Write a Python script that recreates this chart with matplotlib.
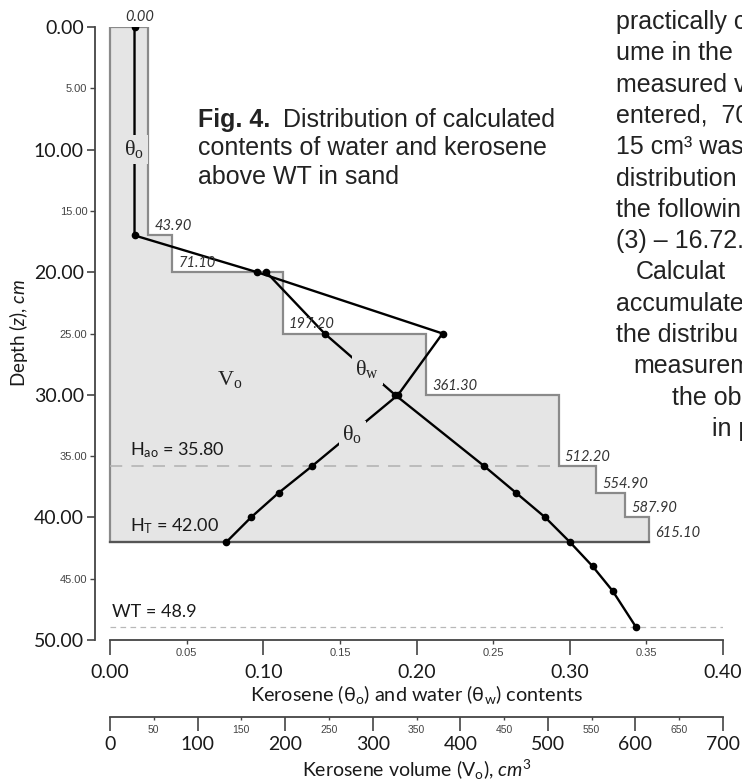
import matplotlib
matplotlib.use('Agg')
import matplotlib.pyplot as plt
import numpy as np

# ── fonts ─────────────────────────────────────────────────────────────
plt.rcParams['font.family'] = ['Lato', 'Liberation Serif', 'DejaVu Sans']
plt.rcParams['mathtext.fontset'] = 'custom'
plt.rcParams['mathtext.rm'] = 'Lato'
plt.rcParams['mathtext.it'] = 'Lato:italic'
plt.rcParams['mathtext.bf'] = 'Lato:bold'

# ── data ──────────────────────────────────────────────────────────────
# cumulative kerosene volume V_o (cm3) reached at each depth (cm)
step_depth = [0, 17, 20, 25, 30, 35.8, 38, 40, 42]
step_volume = [0.0, 43.9, 71.1, 197.2, 361.3, 512.2, 554.9, 587.9, 615.1]
step_labels = ['0.00', '43.90', '71.10', '197.20', '361.30',
               '512.20', '554.90', '587.90', '615.10']

# kerosene content theta_o
oil_depth = [0, 17, 20, 25, 30, 35.8, 38, 40, 42]
oil_theta = [0.016, 0.016, 0.096, 0.217, 0.188, 0.132, 0.110, 0.092, 0.076]

# water content theta_w
water_depth = [20, 25, 30, 35.8, 38, 40, 42, 44, 46, 48.9]
water_theta = [0.102, 0.140, 0.186, 0.244, 0.265, 0.284, 0.300, 0.315,
               0.328, 0.343]

H_AO = 35.8
H_T = 42.0
WT = 48.9
VOL_PER_THETA = 1750.0      # 700 cm3 on the volume scale <-> 0.40

depth_major = [0, 10, 20, 30, 40, 50]
depth_minor = [5, 15, 25, 35, 45]
theta_major = [0.0, 0.1, 0.2, 0.3, 0.4]
theta_minor = [0.05, 0.15, 0.25, 0.35]
vol_major = [0, 100, 200, 300, 400, 500, 600, 700]
vol_minor = [50, 150, 250, 350, 450, 550, 650]

# ── colours ───────────────────────────────────────────────────────────
FILL = '#e5e5e5'
STEP_EDGE = '#8a8a8a'
AXIS = '#444444'
DASH = '#b0b0b0'
TEXT = '#1a1a1a'

W, H = 742, 781
fig = plt.figure(figsize=(W / 100, H / 100), dpi=100)
fig.patch.set_facecolor('white')


def fx(px):
    return px / W


def fy(py):
    return 1 - py / H


ax = fig.add_axes([fx(95), fy(640), (723 - 95) / W, (640 - 27) / H])
ax.set_xlim(-15 / 1532.5, 0.40)
ax.set_ylim(50, 0)
ax.patch.set_visible(False)
for s in ['top', 'right']:
    ax.spines[s].set_visible(False)
ax.spines['left'].set_bounds(0, 50)
ax.spines['bottom'].set_bounds(0, 0.4)
for s in ['left', 'bottom']:
    ax.spines[s].set_color(AXIS)
    ax.spines[s].set_linewidth(1.3)

# ── stepped V_o profile ───────────────────────────────────────────────
vt = np.array(step_volume) / VOL_PER_THETA
z = np.array(step_depth)
xs = np.concatenate([[0], np.repeat(vt[1:], 2), [0]])
ys = np.concatenate([[z[0]], np.repeat(z, 2)[1:-1], [z[-1]]])
ax.fill(xs, ys, facecolor=FILL, edgecolor=STEP_EDGE, lw=1.6, zorder=1)
ax.plot([0, vt[-1]], [z[-1], z[-1]], color='#555555', lw=1.6, zorder=2)

for i in range(1, len(step_depth)):
    ax.annotate(step_labels[i], xy=(vt[i], z[i]), xytext=(4.5, 1.5),
                textcoords='offset points', ha='left', va='bottom',
                fontsize=10.5, style='italic', color='#333333', zorder=5)
ax.annotate(step_labels[0], xy=(oil_theta[0], z[0]), xytext=(3.5, 2),
            textcoords='offset points', ha='center', va='bottom',
            fontsize=10.5, style='italic', color='#333333', zorder=5)

# ── reference levels ─────────────────────────────────────────────────
ax.plot([0, 512.2 / VOL_PER_THETA], [H_AO, H_AO], color=DASH, lw=1.1,
        ls=(0, (8, 6)), zorder=2)
ax.plot([0, 0.40], [WT, WT], color='#b8b8b8', lw=0.9, ls=(0, (4.5, 3.5)),
        zorder=2)

ax.text(0.013, H_AO - 0.45, r'H$_\mathregular{ao}$ = 35.80', fontsize=13,
        color=TEXT, va='bottom', ha='left')
ax.text(0.013, H_T - 0.45, r'H$_\mathregular{T}$ = 42.00', fontsize=13,
        color=TEXT, va='bottom', ha='left')
ax.text(0.001, WT - 0.55, 'WT = 48.9', fontsize=13, color=TEXT,
        va='bottom', ha='left')

# ── content profiles ─────────────────────────────────────────────────
ax.plot(oil_theta, oil_depth, color='black', lw=1.7, marker='o', ms=4.5,
        zorder=3)
ax.plot(water_theta, water_depth, color='black', lw=1.7, marker='o', ms=4.5,
        zorder=3)

lab = dict(fontsize=16, family='Liberation Serif', color='#222222',
           ha='center', va='center', zorder=6,
           bbox=dict(boxstyle='square,pad=0.15', fc=FILL, ec='none'))
ax.text(0.016, 10.0, r'θ$_\mathregular{o}$', **lab)
ax.text(0.168, 28.0, r'θ$_\mathregular{w}$', **lab)
ax.text(0.158, 33.3, r'θ$_\mathregular{o}$', **lab)
ax.text(0.078, 28.8, r'V$_\mathregular{o}$', fontsize=16,
        family='Liberation Serif', color='#222222', ha='center',
        va='center', zorder=6)

# ── depth axis ───────────────────────────────────────────────────────
ax.set_yticks(depth_major, ['%.2f' % v for v in depth_major])
ax.set_yticks(depth_minor, ['%.2f' % v for v in depth_minor], minor=True)
ax.tick_params(axis='y', which='major', length=6, width=1.2, color=AXIS,
               labelsize=14, pad=2, labelcolor=TEXT)
ax.tick_params(axis='y', which='minor', length=3.5, width=1.0, color=AXIS,
               labelsize=8, pad=2, labelcolor='#444444')
for t in ax.get_yticklabels(minor=True):
    t.set_fontfamily('Liberation Sans')

# ── content axis ─────────────────────────────────────────────────────
ax.set_xticks(theta_major, ['%.2f' % v for v in theta_major])
ax.set_xticks(theta_minor, ['%.2f' % v for v in theta_minor], minor=True)
ax.tick_params(axis='x', which='major', length=11, width=1.2, color=AXIS,
               labelsize=14, pad=6, labelcolor=TEXT)
ax.tick_params(axis='x', which='minor', length=3, width=1.0, color=AXIS,
               labelsize=8, pad=3, labelcolor='#444444')
for t in ax.get_xticklabels(minor=True):
    t.set_fontfamily('Liberation Sans')

# ── volume axis ──────────────────────────────────────────────────────
ax2 = fig.add_axes([fx(95), fy(717), (723 - 95) / W, 0.001])
ax2.set_xlim(np.array(ax.get_xlim()) * VOL_PER_THETA)
ax2.patch.set_visible(False)
for s in ['top', 'right', 'left']:
    ax2.spines[s].set_visible(False)
ax2.spines['bottom'].set_bounds(0, 700)
ax2.spines['bottom'].set_color(AXIS)
ax2.spines['bottom'].set_linewidth(1.3)
ax2.set_yticks([])
ax2.set_xticks(vol_major, [str(v) for v in vol_major])
ax2.set_xticks(vol_minor, [str(v) for v in vol_minor], minor=True)
ax2.tick_params(axis='x', which='major', length=10, width=1.2, color=AXIS,
                labelsize=14, pad=4, labelcolor=TEXT)
ax2.tick_params(axis='x', which='minor', length=2.5, width=1.0, color=AXIS,
                labelsize=7.5, pad=3, labelcolor='#444444')
for t in ax2.get_xticklabels(minor=True):
    t.set_fontfamily('Liberation Sans')

# ── axis titles ──────────────────────────────────────────────────────
fig.text(fx(19), fy(333), r'Depth ($z$), $cm$', rotation=90, fontsize=13.5,
         ha='center', va='center', color=TEXT)
fig.text(fx(417), fy(694),
         r'Kerosene (θ$_\mathregular{o}$) and water (θ$_\mathregular{w}$) contents',
         fontsize=14.3, ha='center', va='center', color=TEXT)
fig.text(fx(417), fy(770), r'Kerosene volume (V$_\mathregular{o}$), $cm^3$',
         fontsize=14, ha='center', va='center', color=TEXT)

# ── caption and running page text ────────────────────────────────────
cap = dict(fontsize=18, family='Liberation Sans', color='#222222',
           va='center', ha='left')
fig.text(fx(198), fy(120), 'Fig. 4.', weight='bold', **cap)
fig.text(fx(283), fy(120), 'Distribution of calculated', **cap)
fig.text(fx(198), fy(148), 'contents of water and kerosene', **cap)
fig.text(fx(198), fy(177), 'above WT in sand', **cap)

page_lines = ['practically c', 'ume in the', 'measured vo', 'entered,  70',
              '15 cm³ was', 'distribution', 'the followin', '(3) – 16.72.',
              'Calculat', 'accumulate', 'the distribu', 'measurem',
              'the ob', 'in p']
page_x = [616, 616, 616, 616, 616, 616, 616, 616, 636, 616, 616, 633,
          672, 712]
for k, (line, px) in enumerate(zip(page_lines, page_x)):
    fig.text(fx(px), fy(22 + 31.3 * k), line, **cap)

fig.savefig('out.png', dpi=100, facecolor='white')
